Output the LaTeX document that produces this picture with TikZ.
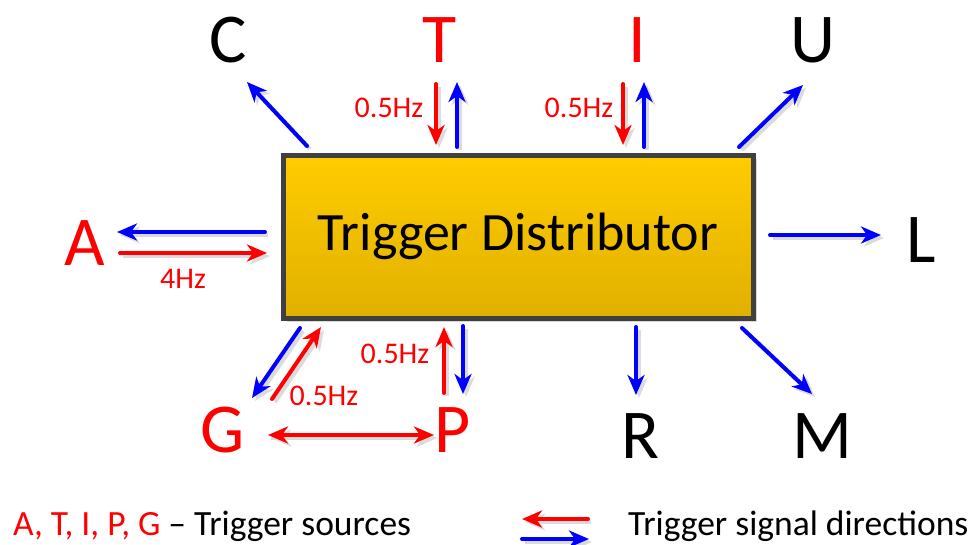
\documentclass[tikz,border=0pt]{standalone}
\usepackage{fontspec}
\setmainfont{Carlito}
\usetikzlibrary{arrows.meta}
\definecolor{myred}{RGB}{255,0,0}
\definecolor{myblue}{RGB}{0,0,255}
\definecolor{boxedge}{RGB}{64,64,64}
\definecolor{boxtop}{RGB}{255,204,0}
\definecolor{boxbot}{RGB}{224,176,0}
\tikzset{
  tipA/.style={-{Stealth[length=20pt,width=17pt,inset=6pt]}},
  sig/.style={line width=4pt, line cap=round, tipA,
    preaction={draw=black!14, line width=4pt, tipA,
      transform canvas={xshift=3pt,yshift=-3pt}}},
  redsig/.style={sig, draw=myred},
  bluesig/.style={sig, draw=myblue},
  bigletter/.style={font=\fontsize{70}{84}\selectfont, anchor=base, inner sep=0pt},
  hz/.style={font=\fontsize{30}{34}\selectfont, text=myred, inner sep=0pt},
  legend/.style={font=\fontsize{35.5}{40}\selectfont, anchor=base west, inner sep=0pt},
}
\begin{document}
\begin{tikzpicture}[x=1pt,y=-1pt]
\useasboundingbox (0,0) rectangle (976,544);
% box
\fill[black!15] (287,159) rectangle (757,322);
\node[draw=boxedge, line width=5pt, top color=boxtop, bottom color=boxbot,
  minimum width=470pt, minimum height=163pt, inner sep=0pt,
  font=\fontsize{54}{60}\selectfont] (box) at (518,236.5) {Trigger Distributor};
% letters
\node[bigletter] (C) at (228,62) {C};
\node[bigletter, text=myred] (T) at (440,62) {T};
\node[bigletter, text=myred] (I) at (637,62) {I};
\node[bigletter] (U) at (813,62) {U};
\node[bigletter, text=myred] (A) at (85,265) {A};
\node[bigletter] (L) at (921,262) {L};
\node[bigletter, text=myred] (G) at (223,452) {G};
\node[bigletter, text=myred] (P) at (453,452) {P};
\node[bigletter] (R) at (640,458) {R};
\node[bigletter] (M) at (822,458) {M};
% coordinates
\coordinate (c1) at (307,146); \coordinate (c2) at (247,82);
\coordinate (t1) at (436,84);  \coordinate (t2) at (436,145);
\coordinate (t3) at (457,147); \coordinate (t4) at (457,82);
\coordinate (i1) at (623,84);  \coordinate (i2) at (623,145);
\coordinate (i3) at (644,147); \coordinate (i4) at (644,82);
\coordinate (u1) at (739,147); \coordinate (u2) at (803,85);
\coordinate (a1) at (265,232); \coordinate (a2) at (117,232);
\coordinate (a3) at (120,253); \coordinate (a4) at (267,253);
\coordinate (l1) at (770,235); \coordinate (l2) at (881,235);
\coordinate (r1) at (636,327); \coordinate (r2) at (636,395);
\coordinate (m1) at (742,328); \coordinate (m2) at (812,394);
\coordinate (g1) at (300,328); \coordinate (g2) at (252,398);
\coordinate (g3) at (272,399); \coordinate (g4) at (321,327);
\coordinate (p1) at (444,393); \coordinate (p2) at (444,327);
\coordinate (p3) at (463,326); \coordinate (p4) at (463,394);
\coordinate (gp1) at (268,435); \coordinate (gp2) at (434,435);
% arrows
\draw[bluesig] (c1) -- (c2);
\draw[redsig] (t1) -- (t2);
\draw[bluesig] (t3) -- (t4);
\draw[redsig] (i1) -- (i2);
\draw[bluesig] (i3) -- (i4);
\draw[bluesig] (u1) -- (u2);
\draw[bluesig] (a1) -- (a2);
\draw[redsig] (a3) -- (a4);
\draw[bluesig] (l1) -- (l2);
\draw[bluesig] (r1) -- (r2);
\draw[bluesig] (m1) -- (m2);
\draw[bluesig] (g1) -- (g2);
\draw[redsig] (g3) -- (g4);
\draw[redsig] (p1) -- (p2);
\draw[bluesig] (p3) -- (p4);
\draw[redsig, {Stealth[length=20pt,width=17pt,inset=6pt]}-{Stealth[length=20pt,width=17pt,inset=6pt]},
  preaction={draw=black!14, line width=4pt,
    {Stealth[length=20pt,width=17pt,inset=6pt]}-{Stealth[length=20pt,width=17pt,inset=6pt]},
    transform canvas={xshift=3pt,yshift=-3pt}}] (gp1) -- (gp2);
% labels
\node[hz] (hzT) at (389,108) {0.5Hz};
\node[hz] (hzI) at (579,108) {0.5Hz};
\node[hz] (hzA) at (183,279) {4Hz};
\node[hz] (hzP) at (395,354) {0.5Hz};
\node[hz] (hzG) at (324,396) {0.5Hz};
% legend
\node[legend] (leg1) at (13,535) {\textcolor{myred}{A, T, I, P, G} – Trigger sources};
\coordinate (lr1) at (588,519); \coordinate (lr2) at (522,519);
\coordinate (lb1) at (522,539); \coordinate (lb2) at (589,539);
\draw[redsig] (lr1) -- (lr2);
\draw[bluesig] (lb1) -- (lb2);
\node[legend] (leg2) at (628,535) {Trigger signal directions};
\end{tikzpicture}
\end{document}
